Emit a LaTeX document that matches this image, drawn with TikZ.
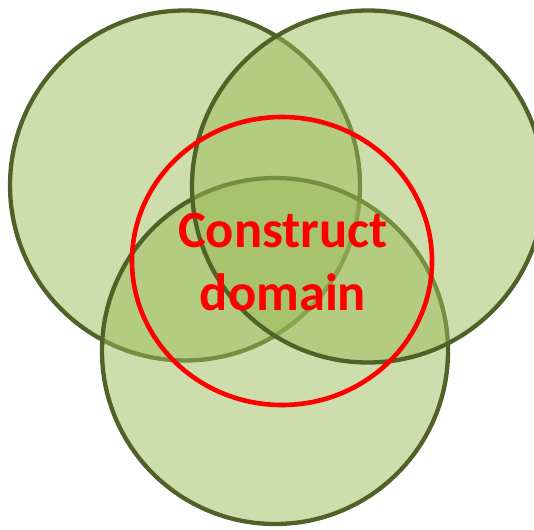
\documentclass[tikz,border=0pt]{standalone}
\usepackage{fontspec}
\setmainfont{Carlito}
\definecolor{olivefill}{HTML}{9BBB59}
\definecolor{oliveline}{HTML}{4F6228}
\definecolor{domainred}{HTML}{FF0000}
\tikzset{
  setcircle/.style={fill=olivefill, fill opacity=0.5, draw=oliveline, draw opacity=1, line width=4.3pt},
  domainring/.style={draw=domainred, line width=4.6pt},
  domaintext/.style={text=domainred, font=\bfseries\fontsize{52.5}{63.5}\selectfont, align=center, inner sep=0pt}
}
\begin{document}
\begin{tikzpicture}[x=1pt, y=-1pt]
  \useasboundingbox (0,0) rectangle (534,529);
  \begin{scope}
    \clip (0,0) rectangle (534,529);
    % three overlapping sets: left, bottom, right
    \path[setcircle] (185,185.5) circle[radius=175pt];
    \path[setcircle] (275,351) circle[radius=173pt];
    \path[setcircle] (368,186.5) circle[radius=176pt];
  \end{scope}
  % common region
  \draw[domainring] (282,261) ellipse[x radius=150pt, y radius=144pt];
  \node[domaintext] (label) at (283,262) {Construct\\domain};
\end{tikzpicture}
\end{document}
